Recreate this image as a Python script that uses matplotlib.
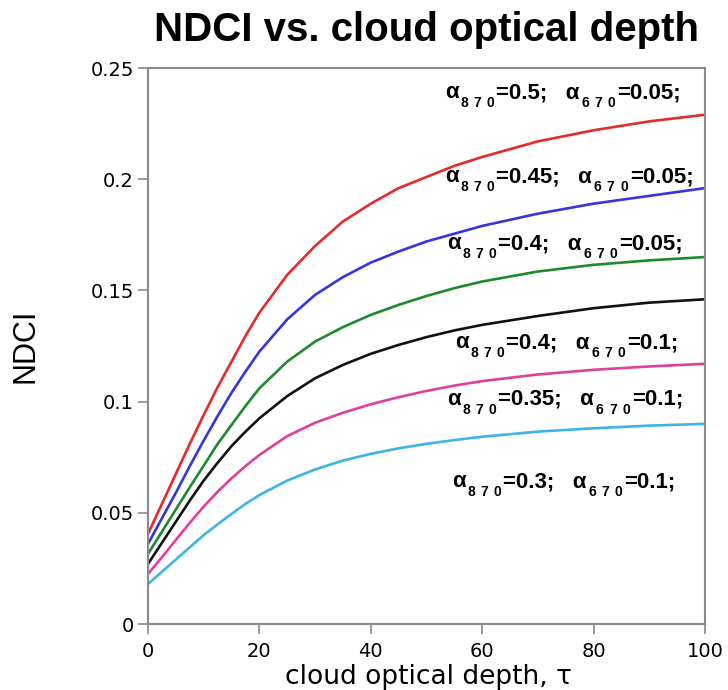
import matplotlib
matplotlib.use("Agg")
import matplotlib.pyplot as plt
import matplotlib.transforms as mtransforms

tau = [0, 2.5, 5, 7.5, 10, 12.5, 15, 17.5, 20, 25, 30, 35, 40, 45, 50, 55, 60, 70, 80, 90, 100]

ndci_050_005 = [0.0405, 0.054, 0.0675, 0.081, 0.094, 0.1065, 0.118, 0.1295, 0.140, 0.157, 0.170,
                0.181, 0.189, 0.196, 0.201, 0.206, 0.210, 0.217, 0.222, 0.226, 0.229]
ndci_045_005 = [0.036, 0.0475, 0.059, 0.071, 0.0825, 0.0935, 0.104, 0.1135, 0.1225, 0.137, 0.148,
                0.156, 0.1625, 0.1675, 0.172, 0.1755, 0.179, 0.1845, 0.189, 0.1925, 0.196]
ndci_040_005 = [0.0315, 0.0415, 0.0515, 0.0615, 0.0712, 0.081, 0.0895, 0.098, 0.106, 0.118, 0.127,
                0.1335, 0.139, 0.1435, 0.1475, 0.151, 0.154, 0.1585, 0.1615, 0.1635, 0.165]
ndci_040_010 = [0.027, 0.0365, 0.046, 0.0555, 0.0645, 0.0725, 0.080, 0.0865, 0.0925, 0.1025, 0.1105,
                0.1165, 0.1215, 0.1255, 0.129, 0.132, 0.1345, 0.1385, 0.142, 0.1445, 0.146]
ndci_035_010 = [0.0225, 0.030, 0.0378, 0.0455, 0.0528, 0.0595, 0.0655, 0.071, 0.076, 0.0845, 0.0905,
                0.095, 0.0988, 0.102, 0.1048, 0.1072, 0.1092, 0.1122, 0.1143, 0.1158, 0.117]
ndci_030_010 = [0.018, 0.0235, 0.029, 0.0345, 0.040, 0.0448, 0.0495, 0.054, 0.058, 0.0645, 0.0695,
                0.0735, 0.0765, 0.079, 0.081, 0.0827, 0.0842, 0.0865, 0.088, 0.0892, 0.090]

series = [ndci_050_005, ndci_045_005, ndci_040_005, ndci_040_010, ndci_035_010, ndci_030_010]
colors = ['#e32b2b', '#3535e0', '#1e8a2e', '#111111', '#e0409a', '#3cb4e6']

alpha870 = ['0.5', '0.45', '0.4', '0.4', '0.35', '0.3']
alpha670 = ['0.05', '0.05', '0.05', '0.1', '0.1', '0.1']
label_x = [53.3, 53.3, 53.7, 55.1, 53.7, 54.6]
label_y = [0.2365, 0.1987, 0.1686, 0.1241, 0.0985, 0.0616]

fig = plt.figure(figsize=(7.28, 6.9), dpi=100)
ax = fig.add_axes([148/728, 1-624/690, (705-148)/728, (624-68)/690])

for ys, c in zip(series, colors):
    ax.plot(tau, ys, color=c, lw=1.9, solid_capstyle='round', solid_joinstyle='round')

ax.set_xlim(0, 100)
ax.set_ylim(0, 0.25)
ax.set_xticks([0, 20, 40, 60, 80, 100])
ax.set_yticks([0, 0.05, 0.1, 0.15, 0.2, 0.25])
ax.set_yticklabels(['0', '0.05', '0.1', '0.15', '0.2', '0.25'])
for s in ax.spines.values():
    s.set_color('#8a8a8a')
    s.set_linewidth(1.5)
ax.tick_params(direction='out', length=7, width=1.2, color='#8a8a8a', labelsize=14)
ax.tick_params(axis='x', pad=6)
ax.tick_params(axis='y', pad=3)
for lab in ax.get_xticklabels() + ax.get_yticklabels():
    lab.set_family('DejaVu Sans')

fig.text(428/728, 1-684/690, 'cloud optical depth, τ', fontsize=19, family='DejaVu Sans',
         ha='center', va='baseline')
ax.set_ylabel('NDCI', fontsize=22, family='Liberation Sans', labelpad=36)
fig.text((152+700)/2/728, 1-30/690, 'NDCI vs. cloud optical depth', fontsize=29,
         fontweight='bold', family='Liberation Sans', ha='center', va='center')

# annotation labels built from pieces (main text + lowered, letter-spaced subscripts)
renderer = fig.canvas.get_renderer()
ident = mtransforms.IdentityTransform()
for a8, a6, x, y in zip(alpha870, alpha670, label_x, label_y):
    xd, yd = ax.transData.transform((x, y))
    pieces = [('α', 'm'), ('870', 's'), ('=' + a8 + ';   α', 'm'), ('670', 's'), ('=' + a6 + ';', 'm')]
    cur = xd
    for txt, kind in pieces:
        if kind == 'm':
            t = fig.text(cur, yd, txt, fontsize=16, fontweight='bold', family='Liberation Sans',
                         ha='left', va='baseline', transform=ident)
            cur = t.get_window_extent(renderer).x1
        else:
            cur += 1.5
            for i, ch in enumerate(txt):
                t = fig.text(cur, yd - 9, ch, fontsize=10, fontweight='bold', family='Liberation Sans',
                             ha='left', va='baseline', transform=ident)
                cur = t.get_window_extent(renderer).x1 + (5.5 if i < len(txt) - 1 else 2)

fig.savefig('out.png', dpi=100, facecolor='white')
